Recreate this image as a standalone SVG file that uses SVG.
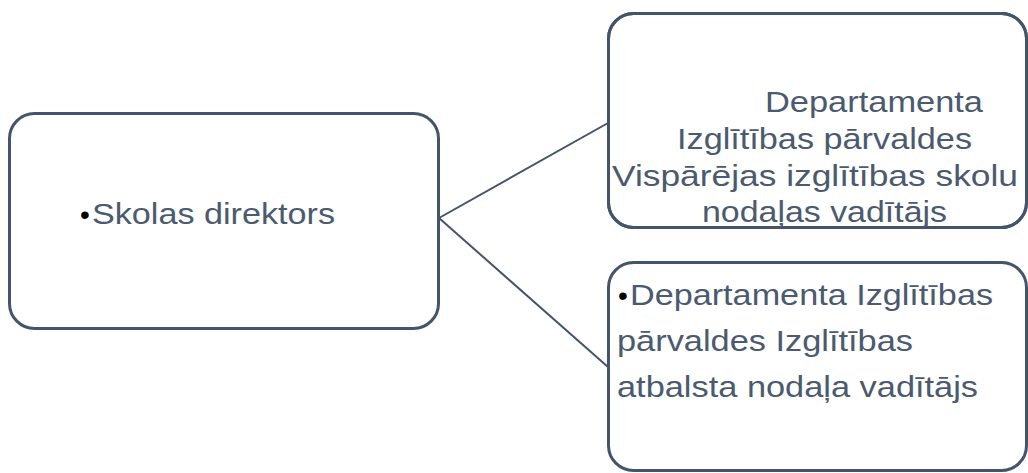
<svg xmlns="http://www.w3.org/2000/svg" width="1028" height="473" viewBox="0 0 1028 473">
<style>
.box{fill:#ffffff;stroke:#44546a;stroke-width:3}
.lbl{font-family:"Liberation Sans",Arial,sans-serif;font-size:29px;fill:#4b5a6e}
.bul{font-family:"Liberation Sans",Arial,sans-serif;font-size:28px;fill:#000000}
.conn{stroke:#44546a;stroke-width:2;fill:none}
</style>
<defs>
<clipPath id="clipTop"><rect x="608" y="13" width="419" height="215"/></clipPath>
</defs>
<rect width="1028" height="473" fill="#ffffff"/>
<g id="connectors">
<line class="conn" x1="439" y1="218" x2="608" y2="123"/>
<line class="conn" x1="439" y1="218" x2="608" y2="367"/>
</g>
<g id="node-director">
<rect class="box" x="9.5" y="113.5" width="429" height="215" rx="25"/>
<text class="bul" x="80" y="224">•</text>
<text class="lbl" x="92" y="224" textLength="243" lengthAdjust="spacingAndGlyphs">Skolas direktors</text>
</g>
<g id="node-general">
<rect class="box" x="608.5" y="13.5" width="418" height="214" rx="25"/>
<g clip-path="url(#clipTop)">
<text class="lbl" x="765" y="112" textLength="218" lengthAdjust="spacingAndGlyphs">Departamenta</text>
<text class="lbl" x="677" y="149" textLength="295" lengthAdjust="spacingAndGlyphs">Izglītības pārvaldes</text>
<text class="lbl" x="612" y="186" textLength="406" lengthAdjust="spacingAndGlyphs">Vispārējas izglītības skolu</text>
<text class="lbl" x="702" y="222" textLength="245" lengthAdjust="spacingAndGlyphs">nodaļas vadītājs</text>
</g>
<rect x="608.5" y="13.5" width="418" height="214" rx="25" fill="none" stroke="#44546a" stroke-width="3"/>
</g>
<g id="node-support">
<rect class="box" x="608.5" y="262.5" width="418" height="208" rx="25"/>
<text class="bul" x="618" y="305">•</text>
<text class="lbl" x="630" y="305" textLength="363" lengthAdjust="spacingAndGlyphs">Departamenta Izglītības</text>
<text class="lbl" x="617" y="351" textLength="296" lengthAdjust="spacingAndGlyphs">pārvaldes Izglītības</text>
<text class="lbl" x="617" y="397" textLength="361" lengthAdjust="spacingAndGlyphs">atbalsta nodaļa vadītājs</text>
</g>
</svg>
